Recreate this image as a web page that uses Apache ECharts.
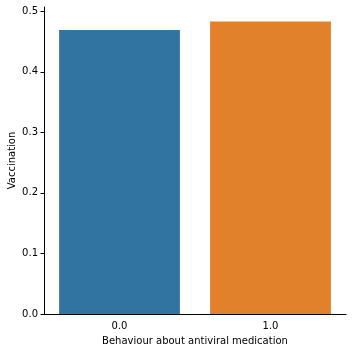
<!DOCTYPE html>
<html>
<head>
<meta charset="utf-8">
<script src="https://cdn.jsdelivr.net/npm/echarts@6/dist/echarts.min.js"></script>
<style>
  html, body { margin: 0; padding: 0; background: #fff; }
  #chart { width: 352px; height: 352px; }
</style>
</head>
<body>
<div id="chart"></div>
<script>
// data
const categories = ['0.0', '1.0']
const vaccination = [0.469, 0.483]
const barColors = ['#3274a1', '#e1812c']
const yTicks = [0, 0.1, 0.2, 0.3, 0.4, 0.5]

const font = 'DejaVu Sans'
const chart = echarts.init(document.getElementById('chart'))

chart.setOption({
  animation: false,
  grid: { left: 44, right: 6, top: 7, bottom: 38, outerBoundsMode: 'none', containLabel: false },
  xAxis: {
    type: 'category',
    data: categories,
    name: 'Behaviour about antiviral medication',
    nameLocation: 'middle',
    nameGap: 22,
    nameTextStyle: { fontFamily: font, fontSize: 10, color: '#000' },
    axisLine: { lineStyle: { color: '#000', width: 1 } },
    axisTick: { alignWithLabel: true, length: 3.5, lineStyle: { color: '#000' } },
    axisLabel: { fontFamily: font, fontSize: 10, color: '#000', margin: 7 }
  },
  yAxis: {
    type: 'value',
    min: 0,
    max: 0.507,
    name: 'Vaccination',
    nameLocation: 'middle',
    nameGap: 27,
    nameMoveOverlap: false,
    nameTextStyle: { fontFamily: font, fontSize: 10, color: '#000' },
    splitLine: { show: false },
    axisLine: { show: true, lineStyle: { color: '#000', width: 1 } },
    axisTick: { show: true, length: 3.5, customValues: yTicks, lineStyle: { color: '#000' } },
    axisLabel: {
      fontFamily: font, fontSize: 10, color: '#000', margin: 6,
      customValues: yTicks,
      formatter: v => v.toFixed(1)
    }
  },
  series: [{
    type: 'bar',
    barCategoryGap: '20%',
    data: vaccination.map((v, i) => ({ value: v, itemStyle: { color: barColors[i] } }))
  }]
})
</script>
</body>
</html>
